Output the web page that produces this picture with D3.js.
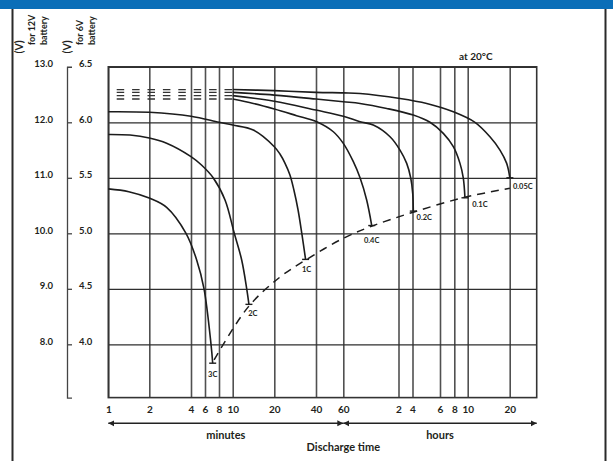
<!DOCTYPE html>
<html>
<head>
<meta charset="utf-8">
<script src="https://cdn.jsdelivr.net/npm/d3@7"></script>
<style>
  body { margin: 0; background: #fff; }
  text { font-family: Lato, "Open Sans", sans-serif; font-weight: bold; fill: #231f20; }
</style>
</head>
<body>
<div id="discharge_viz"></div>
<script>
// discharge time ticks, in minutes, and the labels written under them
var timeTicks = [1, 2, 4, 6, 8, 10, 20, 40, 60, 120, 240, 360, 480, 600, 1200]
var timeLabels = ["1", "2", "4", "6", "8", "10", "20", "40", "60", "2", "4", "6", "8", "10", "20"]

// voltage ticks for a 6V battery, and the matching 12V labels
var voltTicks = [6.5, 6.0, 5.5, 5.0, 4.5, 4.0]
var volt12Labels = ["13.0", "12.0", "11.0", "10.0", "9.0", "8.0"]

// discharge rates, each curve is [minutes, volts (6V battery)]
var rates = ["3C", "2C", "1C", "0.4C", "0.2C", "0.1C", "0.05C"]
var curve3C = [[1, 5.40], [1.5, 5.375], [2.03, 5.315], [2.83, 5.234], [3.76, 5.00], [4.81, 4.76], [5.86, 4.50], [6.86, 4.00], [7.1, 3.83]]
var curve2C = [[1, 5.89], [1.53, 5.885], [2, 5.859], [2.83, 5.812], [4, 5.691], [5.5, 5.615], [7.19, 5.498], [8.88, 5.30], [10.38, 5.00], [12.16, 4.76], [13.37, 4.50], [13.9, 4.36]]
var curve1C = [[1, 6.095], [2, 6.09], [4, 6.055], [8, 6.00], [10, 5.975], [14.95, 5.93], [20, 5.78], [22.7, 5.714], [25.1, 5.633], [27.5, 5.525], [29.4, 5.39], [31.4, 5.21], [33.3, 4.985], [35, 4.765]]
var curve04C = [[1, 6.21], [10, 6.21], [14.95, 6.17], [20, 6.12], [30.7, 6.06], [40.5, 6.005], [52.7, 5.915], [60, 5.81], [70.9, 5.645], [78.2, 5.50], [85.4, 5.30], [90.9, 5.07]]
var curve02C = [[1, 6.24], [10, 6.24], [20, 6.19], [40, 6.11], [60, 6.055], [78.2, 6.005], [92.6, 5.975], [110.8, 5.87], [132.9, 5.75], [190.3, 5.63], [224.6, 5.50], [240.9, 5.36], [243.5, 5.20]]
var curve01C = [[1, 6.27], [10, 6.27], [20, 6.245], [40, 6.21], [60, 6.185], [78.2, 6.17], [107.2, 6.125], [243.5, 6.065], [316.4, 6.00], [387.7, 5.90], [471.8, 5.78], [530.9, 5.63], [560.3, 5.50], [575.4, 5.32]]
var curve005C = [[1, 6.295], [10, 6.295], [20, 6.285], [40, 6.27], [60, 6.265], [78.2, 6.26], [132.9, 6.215], [302, 6.17], [471.8, 6.095], [704, 6.00], [918, 5.87], [1061, 5.75], [1157, 5.63], [1204, 5.50]]
var curves = [curve3C, curve2C, curve1C, curve04C, curve02C, curve01C, curve005C]

// the slow rates start flat, drawn dashed up to 10 minutes
var dashedRates = ["0.4C", "0.2C", "0.1C", "0.05C"]
var dashedUntil = 10

// final discharge voltage, the dashed line under the curve ends
var finalVolts = [[7.3, 3.86], [13.7, 4.335], [22.7, 4.605], [35.1, 4.76], [60, 4.955], [91.2, 5.065], [243, 5.19], [575, 5.325], [1204, 5.405]]

// where each rate label sits from the end of its curve
var labelShift = [[0, 14], [4, 12], [1, 13], [0, 17], [11, 9], [15, 9], [13, 11]]

var svgWidth = 613, svgHeight = 461
var margin = {top: 66.8, left: 108.3},
    width = 428.4,
    height = 330.8

var root = d3.select("#discharge_viz")
  .append("svg")
    .attr("width", svgWidth)
    .attr("height", svgHeight)

// blue band and side frame
root.append("rect")
  .attr("x", 0).attr("y", 0)
  .attr("width", svgWidth).attr("height", 9)
  .attr("fill", "#0a6eb8")
root.append("line")
  .attr("x1", 12.5).attr("x2", 12.5).attr("y1", 9).attr("y2", svgHeight)
  .attr("stroke", "#2a2a2a").attr("stroke-width", 2)
root.append("line")
  .attr("x1", 605.5).attr("x2", 605.5).attr("y1", 9).attr("y2", svgHeight)
  .attr("stroke", "#2a2a2a").attr("stroke-width", 2)

var svg = root.append("g")
  .attr("transform", "translate(" + margin.left + "," + margin.top + ")")

// time axis is not a true log scale, ticks are placed one by one (last one = 30 h edge)
var x = d3.scaleLinear()
  .domain(timeTicks.concat([1800]))
  .range([0, 41, 82.7, 96.7, 110.7, 124.4, 166, 207.7, 235, 290.2, 304.2, 331.7, 346, 359.4, 401.4, 428.4])

var y = d3.scaleLinear()
  .domain([3.52, 6.5])
  .range([height, 0])

// vertical grid
var xGrid = svg.append("g")
  .attr("transform", "translate(0," + height + ")")
  .call(d3.axisBottom(x).tickValues(timeTicks).tickSize(-height).tickFormat(""))
xGrid.select(".domain").remove()
xGrid.selectAll("line").attr("stroke", "#505050").attr("stroke-width", 1.6)

// horizontal grid
var yGrid = svg.append("g")
  .call(d3.axisLeft(y).tickValues(voltTicks).tickSize(-width).tickFormat(""))
yGrid.select(".domain").remove()
yGrid.selectAll("line").attr("stroke", "#2e2e2e").attr("stroke-width", 1.3)

svg.append("rect")
  .attr("width", width).attr("height", height)
  .attr("fill", "none").attr("stroke", "#333").attr("stroke-width", 1.6)

// time labels
var xAxis = svg.append("g")
  .attr("transform", "translate(0," + height + ")")
  .call(d3.axisBottom(x).tickValues(timeTicks).tickSize(0).tickPadding(8.6)
    .tickFormat(function(d, i) { return timeLabels[i]; }))
xAxis.attr("font-size", 10)
xAxis.select(".domain").remove()

// 6V axis: bracket with short ticks
var y6Axis = root.append("g")
  .attr("transform", "translate(67," + margin.top + ")")
  .call(d3.axisRight(y).tickValues(voltTicks).tickSize(5).tickSizeOuter(5).tickPadding(7)
    .tickFormat(d3.format(".1f")))
y6Axis.attr("font-size", 9.5)
y6Axis.selectAll("path, line").attr("stroke", "#444").attr("stroke-width", 1.3)
y6Axis.selectAll("text").attr("dy", "0")

// 12V labels
var y12Axis = root.append("g")
  .attr("transform", "translate(53," + margin.top + ")")
  .call(d3.axisLeft(y).tickValues(voltTicks).tickSize(0).tickPadding(0)
    .tickFormat(function(d, i) { return volt12Labels[i]; }))
y12Axis.attr("font-size", 9.5)
y12Axis.select(".domain").remove()
y12Axis.selectAll("text").attr("dy", "0")

// rotated axis titles
var titles = [
  {text: "(V)", x: 23, y: 53.5, size: 10.5},
  {text: "for 12V", x: 35, y: 45, size: 9},
  {text: "battery", x: 47, y: 45, size: 9},
  {text: "(V)", x: 71, y: 53.5, size: 10.5},
  {text: "for 6V", x: 83, y: 45, size: 9},
  {text: "battery", x: 95, y: 45, size: 9}
]
root.selectAll("text.sideTitle")
  .data(titles)
  .enter()
  .append("text")
    .attr("class", "sideTitle")
    .attr("transform", function(d) { return "translate(" + d.x + "," + d.y + ")rotate(-90)"; })
    .attr("font-size", function(d) { return d.size; })
    .text(function(d) { return d.text; })

root.append("text")
  .attr("x", 459).attr("y", 60)
  .attr("font-size", 10)
  .text("at 20°C")

// curves
var smoothLine = d3.line()
  .x(function(d) { return x(d[0]); })
  .y(function(d) { return y(d[1]); })
  .curve(d3.curveCatmullRom.alpha(0.5))

var straightLine = d3.line()
  .x(function(d) { return x(d[0]); })
  .y(function(d) { return y(d[1]); })

rates.forEach(function(rate, i) {
  var pts = curves[i]
  var solidPts = pts
  if (dashedRates.indexOf(rate) >= 0) {
    var flatPts = pts.filter(function(d) { return d[0] <= dashedUntil; })
    solidPts = pts.filter(function(d) { return d[0] >= dashedUntil; })
    svg.append("path")
      .datum(flatPts)
      .attr("d", straightLine)
      .attr("fill", "none")
      .attr("stroke", "#333")
      .attr("stroke-width", 1.3)
      .attr("stroke-dasharray", "7.5,7.9")
      .attr("stroke-dashoffset", 7)
  }
  svg.append("path")
    .datum(solidPts)
    .attr("d", smoothLine)
    .attr("fill", "none")
    .attr("stroke", "#1c1c1c")
    .attr("stroke-width", 1.6)

  var end = pts[pts.length - 1]
  svg.append("line")
    .attr("x1", x(end[0]) - 3.5).attr("x2", x(end[0]) + 3.5)
    .attr("y1", y(end[1])).attr("y2", y(end[1]))
    .attr("stroke", "#1c1c1c").attr("stroke-width", 1.4)
  svg.append("text")
    .attr("x", x(end[0]) + labelShift[i][0])
    .attr("y", y(end[1]) + labelShift[i][1])
    .attr("text-anchor", "middle")
    .attr("font-size", 7.5)
    .text(rate)
})

// final voltage line
svg.append("path")
  .datum(finalVolts)
  .attr("d", smoothLine)
  .attr("fill", "none")
  .attr("stroke", "#1c1c1c")
  .attr("stroke-width", 1.5)
  .attr("stroke-dasharray", "8,6")

// minutes / hours arrows
var defs = root.append("defs")
defs.append("marker")
  .attr("id", "arrowHead")
  .attr("viewBox", "0 0 10 10")
  .attr("refX", 10).attr("refY", 5)
  .attr("markerUnits", "userSpaceOnUse")
  .attr("markerWidth", 6).attr("markerHeight", 7)
  .attr("orient", "auto-start-reverse")
  .append("path")
    .attr("d", "M0,0L10,5L0,10z")
    .attr("fill", "#222")

var spans = [{name: "minutes", from: 1, to: 60}, {name: "hours", from: 60, to: 1800}]
var arrowY = height + 25.7

spans.forEach(function(s) {
  svg.append("line")
    .attr("x1", x(s.from)).attr("x2", x(s.to))
    .attr("y1", arrowY).attr("y2", arrowY)
    .attr("stroke", "#222").attr("stroke-width", 1.5)
    .attr("marker-start", "url(#arrowHead)")
    .attr("marker-end", "url(#arrowHead)")
  svg.append("text")
    .attr("x", (x(s.from) + x(s.to)) / 2)
    .attr("y", height + 41.1)
    .attr("text-anchor", "middle")
    .attr("font-size", 11)
    .text(s.name)
})

svg.append("text")
  .attr("x", x(60))
  .attr("y", height + 53.4)
  .attr("text-anchor", "middle")
  .attr("font-size", 11)
  .text("Discharge time")
</script>
</body>
</html>
